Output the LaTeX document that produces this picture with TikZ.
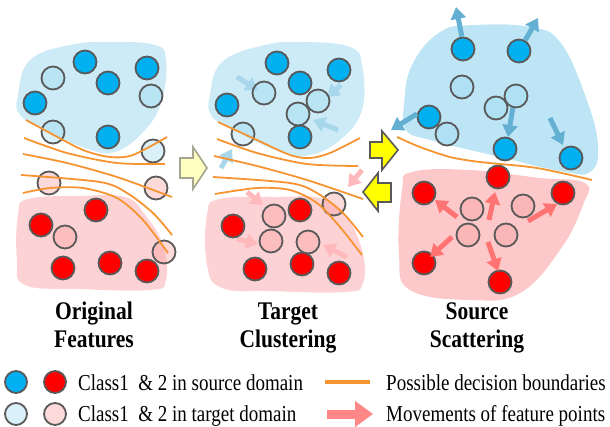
\documentclass[tikz,border=0pt]{standalone}
\usepackage{fontspec}
\usepackage{graphicx}
\setmainfont{Liberation Serif}
\usetikzlibrary{arrows.meta}
\definecolor{srcblue}{RGB}{0,176,240}
\definecolor{srcred}{RGB}{255,0,0}
\definecolor{tgtblue}{RGB}{150,215,240}
\definecolor{tgtred}{RGB}{250,150,150}
\definecolor{outl}{RGB}{89,89,89}
\definecolor{blobblue}{RGB}{205,235,247}
\definecolor{blobbluec}{RGB}{190,229,245}
\definecolor{blobpink}{RGB}{253,210,212}
\definecolor{blobpinkc}{RGB}{252,200,202}
\definecolor{orng}{RGB}{247,148,50}
\definecolor{mvblue}{RGB}{100,176,210}
\definecolor{mvpink}{RGB}{255,115,115}
\definecolor{fdblue}{RGB}{168,214,235}
\definecolor{fdpink}{RGB}{255,185,188}
\definecolor{legpink}{RGB}{255,135,135}
\definecolor{lightyel}{RGB}{255,255,192}
\definecolor{lightyelout}{RGB}{165,165,145}
\definecolor{yel}{RGB}{255,255,0}
\newcommand\ptc[4]{\node[#1] (#2) at (#3,#4) {};}
\begin{document}
\begin{tikzpicture}[x=1pt,y=-1pt,
  pt/.style={circle, minimum size=23pt, inner sep=0pt, draw=outl, line width=1.8pt},
  sa/.style={pt, fill=srcblue},
  sb/.style={pt, fill=srcred},
  ta/.style={pt, fill=tgtblue, fill opacity=0.35},
  tb/.style={pt, fill=tgtred, fill opacity=0.35},
  bound/.style={draw=orng, line width=1.8pt},
  mv/.style={line width=5pt, -{Triangle[width=15pt,length=12pt]}},
  blockarrow/.style={line width=1.6pt, line join=miter},
  title/.style={anchor=base, font=\fontsize{21.5}{26}\selectfont\bfseries},
  legtext/.style={anchor=base west, inner sep=0pt, font=\fontsize{19}{23}\selectfont}]
\useasboundingbox (0,0) rectangle (610,426);

% ---------- blobs ----------
\fill[blobblue] plot[smooth cycle, tension=0.7] coordinates {(18,95) (30,60) (70,45) (110,42) (155,45) (166,60) (162,100) (145,130) (115,152) (85,148) (45,130) (20,115)};
\fill[blobpink] plot[smooth cycle, tension=0.7] coordinates {(18,215) (28,199) (80,196) (125,197) (145,215) (163,245) (166,280) (150,290) (80,289) (25,285) (17,260)};
\fill[blobblue] plot[smooth cycle, tension=0.7] coordinates {(210,95) (222,62) (265,45) (305,42) (350,47) (362,65) (362,110) (340,140) (310,155) (280,152) (230,128) (211,115)};
\fill[blobpink] plot[smooth cycle, tension=0.7] coordinates {(207,215) (220,199) (280,197) (320,198) (345,215) (362,250) (363,283) (345,292) (270,291) (222,288) (207,265)};
\fill[blobbluec] plot[smooth cycle, tension=0.7] coordinates {(404,105) (412,65) (440,32) (475,25) (530,27) (560,42) (585,95) (598,145) (590,172) (560,171) (500,157) (430,140) (406,130)};
\fill[blobpinkc] plot[smooth cycle, tension=0.7] coordinates {(402,190) (412,172) (470,170) (540,178) (585,183) (583,205) (560,250) (520,293) (470,300) (410,290) (399,255)};

% ---------- faded movements (target clustering) ----------
\draw[mv, fdblue] (237,77) -- (258,90);
\draw[mv, fdblue] (341,85) -- (327,97);
\draw[mv, fdblue] (338,130) -- (313,120);
\draw[mv, fdblue] (221,168) -- (232,149);
\draw[mv, fdpink] (362,170) -- (348,187);
\draw[mv, fdpink] (247,192) -- (263,205);
\draw[mv, fdpink] (237,239) -- (258,244);
\draw[mv, fdpink] (347,257) -- (323,245);

% ---------- panel 1 points ----------
\ptc{ta}{a1}{53}{78}
\ptc{sa}{a2}{85}{62}
\ptc{sa}{a3}{147}{68}
\ptc{sa}{a4}{108}{83}
\ptc{ta}{a5}{151}{96}
\ptc{sa}{a6}{35}{103}
\ptc{ta}{a7}{53}{132}
\ptc{sa}{a8}{108}{137}
\ptc{ta}{a9}{153}{151}
\ptc{tb}{b1}{49}{183}
\ptc{tb}{b2}{156}{188}
\ptc{sb}{b3}{96}{210}
\ptc{sb}{b4}{41}{225}
\ptc{tb}{b5}{65}{237}
\ptc{sb}{b6}{63}{268}
\ptc{sb}{b7}{110}{263}
\ptc{sb}{b8}{147}{271}
\ptc{tb}{b9}{164}{252}

% ---------- panel 2 points ----------
\ptc{sa}{c1}{277}{63}
\ptc{sa}{c2}{339}{70}
\ptc{sa}{c3}{300}{83}
\ptc{ta}{c4}{264}{93}
\ptc{ta}{c5}{318}{101}
\ptc{sa}{c6}{227}{105}
\ptc{ta}{c7}{298}{114}
\ptc{sa}{c8}{300}{137}
\ptc{ta}{c9}{243}{134}
\ptc{tb}{d1}{334}{204}
\ptc{sb}{d2}{300}{210}
\ptc{tb}{d3}{274}{216}
\ptc{sb}{d4}{233}{226}
\ptc{tb}{d5}{271}{241}
\ptc{tb}{d6}{308}{242}
\ptc{sb}{d7}{255}{269}
\ptc{sb}{d8}{302}{264}
\ptc{sb}{d9}{339}{273}

% ---------- panel 3 points ----------
\ptc{sa}{e1}{463}{49}
\ptc{sa}{e2}{519}{51}
\ptc{ta}{e3}{462}{87}
\ptc{ta}{e5}{496}{108}
\ptc{ta}{e4}{516}{96}
\ptc{sa}{e6}{429}{117}
\ptc{ta}{e7}{447}{134}
\ptc{sa}{e8}{505}{149}
\ptc{sa}{e9}{571}{158}
\ptc{sb}{f1}{498}{177}
\ptc{sb}{f2}{424}{193}
\ptc{sb}{f3}{563}{193}
\ptc{tb}{f4}{472}{209}
\ptc{tb}{f5}{523}{206}
\ptc{tb}{f6}{468}{235}
\ptc{tb}{f7}{506}{235}
\ptc{sb}{f8}{424}{263}
\ptc{sb}{f9}{500}{282}

% ---------- scattering movements ----------
\draw[mv, mvblue] (e1.95) -- (456,7);
\draw[mv, mvblue] (e2.60) -- (538,18);
\draw[mv, mvblue] (e6.165) -- (391,130);
\draw[mv, mvblue] (e4.255) -- (508,137);
\draw[mv, mvblue] (550,118) -- (563,145);
\draw[mv, mvpink] (457,217) -- (435,200);
\draw[mv, mvpink] (489,220) -- (495,192);
\draw[mv, mvpink] (528,221) -- (557,204);
\draw[mv, mvpink] (452,237) -- (430,257);
\draw[mv, mvpink] (488,242) -- (498,271);

% ---------- decision boundaries ----------
\draw[bound] plot[smooth] coordinates {(26,120) (50,133) (83,150) (110,157) (133,155) (167,137)};
\draw[bound] plot[smooth] coordinates {(24,138) (67,153) (117,163) (165,164)};
\draw[bound] plot[smooth] coordinates {(23,154) (67,163) (117,177) (172,197)};
\draw[bound] plot[smooth] coordinates {(21,175) (100,182) (127,193) (153,213) (172,235)};
\draw[bound] plot[smooth] coordinates {(23,193) (50,188) (83,188) (117,198) (143,220) (168,253)};

\draw[bound] plot[smooth] coordinates {(218,122) (257,140) (290,155) (310,158) (330,153) (360,138)};
\draw[bound] plot[smooth] coordinates {(217,139) (257,153) (307,164) (358,166)};
\draw[bound] plot[smooth] coordinates {(214,156) (257,166) (307,180) (363,199)};
\draw[bound] plot[smooth] coordinates {(213,177) (290,183) (317,193) (343,213) (363,237)};
\draw[bound] plot[smooth] coordinates {(215,194) (257,188) (290,190) (317,203) (340,227) (362,255)};

\draw[bound] plot[smooth] coordinates {(397,137) (420,147) (450,157) (480,162) (537,168) (592,180)};

% ---------- block arrows ----------
\draw[blockarrow, fill=lightyel, draw=lightyelout] (180,158) -- (193,158) -- (193,147) -- (207,168) -- (193,189) -- (193,178) -- (180,178) -- cycle;
\draw[blockarrow, fill=yel, draw=outl] (370,142) -- (382,142) -- (382,131) -- (398,150) -- (382,170) -- (382,158) -- (370,158) -- cycle;
\draw[blockarrow, fill=yel, draw=outl] (391,183) -- (378,183) -- (378,173) -- (363,192) -- (378,211) -- (378,202) -- (391,202) -- cycle;

% ---------- titles ----------
\node[title] (t1a) at (94,319) {\scalebox{1}[1.18]{Original}};
\node[title] (t1b) at (94,347) {\scalebox{1}[1.18]{Features}};
\node[title] (t2a) at (288,319) {\scalebox{1}[1.18]{Target}};
\node[title] (t2b) at (288,347) {\scalebox{1}[1.18]{Clustering}};
\node[title] (t3a) at (477,319) {\scalebox{1}[1.18]{Source}};
\node[title] (t3b) at (477,347) {\scalebox{1}[1.18]{Scattering}};

% ---------- legend ----------
\node[sa, minimum size=22pt] (l1) at (16,382) {};
\node[sb, minimum size=22pt] (l2) at (55,382) {};
\node[ta, minimum size=22pt] (l3) at (16,414) {};
\node[tb, minimum size=22pt] (l4) at (55,414) {};
\node[legtext] (lt1) at (78,390) {\scalebox{1}[1.2]{Class1 \ \& 2 in source domain}};
\node[legtext] (lt2) at (78,421) {\scalebox{1}[1.2]{Class1 \ \& 2 in target domain}};
\coordinate (lo1) at (325,382);
\coordinate (lo2) at (370,382);
\draw[orng, line width=4pt] (lo1) -- (lo2);
\coordinate (lp1) at (327,414);
\coordinate (lp2) at (373,414);
\draw[legpink, line width=9pt, -{Triangle[width=25pt,length=18pt]}] (lp1) -- (lp2);
\node[legtext] (lt3) at (386,390) {\scalebox{1}[1.2]{Possible decision boundaries}};
\node[legtext] (lt4) at (386,421) {\scalebox{1}[1.2]{Movements of feature points}};
\end{tikzpicture}
\end{document}
